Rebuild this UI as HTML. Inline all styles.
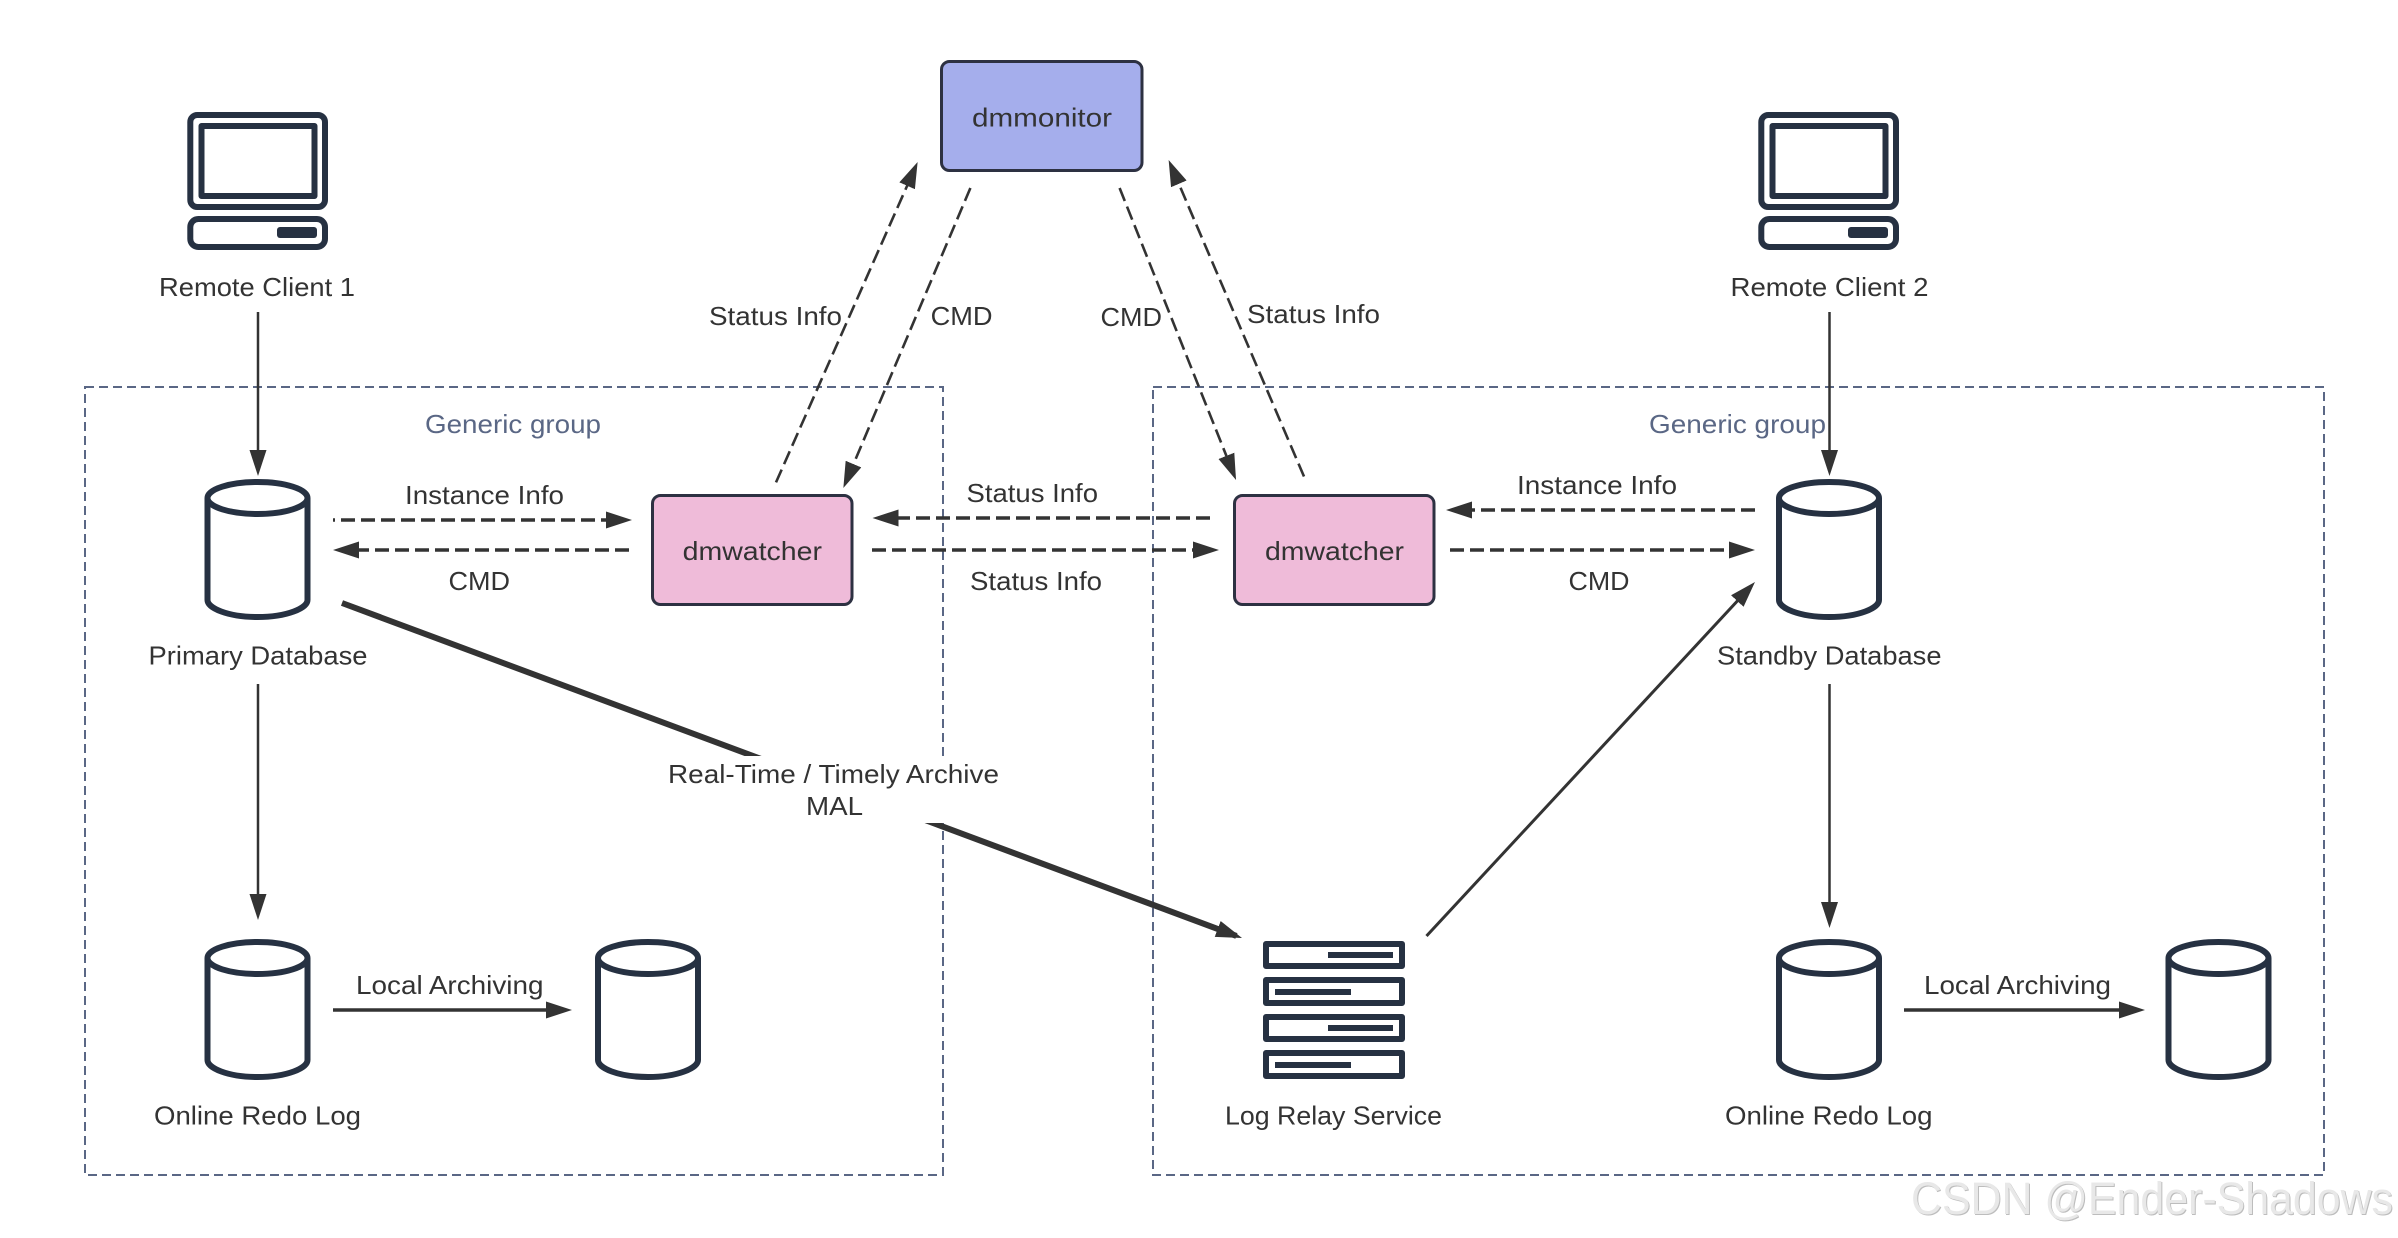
<!DOCTYPE html>
<html lang="en"><head><meta charset="utf-8"><title>DM Watcher Architecture</title>
<style>
html,body{margin:0;padding:0;background:#fff;width:2398px;height:1238px;overflow:hidden}
svg{display:block}
text{font-family:"Liberation Sans","Noto Sans CJK SC",sans-serif;font-size:26px;fill:#333}
.c{fill:none;stroke:#263142;stroke-width:6;stroke-linejoin:round}
.grp{fill:none;stroke:#5a6785;stroke-width:2;stroke-dasharray:9 5}
.l{fill:none;stroke:#333;stroke-width:2.5;marker-end:url(#h)}
.d{fill:none;stroke:#333;stroke-width:2.6;stroke-dasharray:14 6;marker-end:url(#h)}
.dh{fill:none;stroke:#333;stroke-width:3.4;stroke-dasharray:14 6;marker-end:url(#h)}
</style></head><body>
<svg width="2398" height="1238" viewBox="0 0 2398 1238" xmlns="http://www.w3.org/2000/svg">
<defs>
<marker id="h" markerUnits="userSpaceOnUse" markerWidth="28" markerHeight="18" refX="20" refY="9" orient="auto"><path d="M0,0.5 L26,9 L0,17.5 Z" fill="#333"/></marker>
<g id="pc">
<rect x="190.3" y="115" width="134.7" height="92" rx="7" class="c"/>
<rect x="201.5" y="126" width="113" height="70" class="c" stroke-width="5.5"/>
<rect x="190.3" y="219" width="134.7" height="28" rx="8" class="c"/>
<rect x="277" y="227" width="40" height="11" rx="3" fill="#263142"/>
</g>
<g id="cyl">
<ellipse cx="0" cy="19" rx="50" ry="16" class="c"/>
<path d="M-50,19 V121 C-50,129 -30,138 0,138 C30,138 50,129 50,121 V19" class="c"/>
</g>
</defs>

<rect width="2398" height="1238" fill="#fff"/>

<!-- groups -->
<rect x="85" y="387" width="858" height="788" class="grp"/>
<rect x="1153" y="387" width="1171" height="788" class="grp"/>
<text x="425" y="433" textLength="176" lengthAdjust="spacingAndGlyphs" style="fill:#5a6785">Generic group</text>
<text x="1649" y="433" textLength="177" lengthAdjust="spacingAndGlyphs" style="fill:#5a6785">Generic group</text>

<!-- solid vertical connectors -->
<line x1="258" y1="312" x2="258" y2="470" class="l" stroke-width="2"/>
<line x1="1829.500" y1="312" x2="1829.500" y2="470" class="l"/>
<line x1="258" y1="684" x2="258" y2="914" class="l"/>
<line x1="1829.500" y1="684" x2="1829.500" y2="922" class="l"/>

<!-- local archiving -->
<line x1="333" y1="1010" x2="566" y2="1010" class="l" style="stroke-width:3.4"/>
<line x1="1904" y1="1010" x2="2139" y2="1010" class="l" style="stroke-width:3.4"/>

<!-- monitor dashed: line ends 6px short of the arrow tip -->
<line x1="776" y1="482.4" x2="915.2" y2="167.5" class="d"/>
<line x1="970.4" y1="188" x2="845.7" y2="482.5" class="d"/>
<line x1="1119.6" y1="188" x2="1233.8" y2="474.4" class="d"/>
<line x1="1304" y1="476.5" x2="1171" y2="165.5" class="d"/>

<!-- horizontal dashed -->
<line x1="333" y1="520" x2="626" y2="520" class="dh" stroke-dashoffset="12"/>
<line x1="629" y1="550" x2="339" y2="550" class="dh"/>
<line x1="1210" y1="518" x2="878.5" y2="518" class="dh"/>
<line x1="872" y1="550" x2="1213" y2="550" class="dh"/>
<line x1="1755" y1="510" x2="1452" y2="510" class="dh"/>
<line x1="1450" y1="550" x2="1749" y2="550" class="dh"/>

<!-- thick + relay -->
<line x1="342" y1="603" x2="1236.400" y2="935.900" class="l" style="stroke-width:6"/>
<line x1="1426.5" y1="936" x2="1750.900" y2="586.400" class="l" style="stroke-width:3"/>
<rect x="662" y="756" width="343" height="67" fill="#fff"/>
<text x="668" y="783" textLength="331" lengthAdjust="spacingAndGlyphs">Real-Time / Timely Archive</text>
<text x="806" y="815" textLength="57" lengthAdjust="spacingAndGlyphs">MAL</text>

<!-- process boxes -->
<rect x="941.5" y="61.5" width="200.5" height="109" rx="8" fill="#a5aeec" stroke="#2d3142" stroke-width="3"/>
<rect x="652.5" y="495.5" width="199.5" height="109" rx="8" fill="#efbbd9" stroke="#2d3142" stroke-width="3"/>
<rect x="1234.5" y="495.5" width="199.5" height="109" rx="8" fill="#efbbd9" stroke="#2d3142" stroke-width="3"/>
<text x="972" y="126.5" textLength="140" lengthAdjust="spacingAndGlyphs">dmmonitor</text>
<text x="682.6" y="560" textLength="139.4" lengthAdjust="spacingAndGlyphs">dmwatcher</text>
<text x="1265" y="560" textLength="139" lengthAdjust="spacingAndGlyphs">dmwatcher</text>

<!-- icons -->
<use href="#pc"/>
<use href="#pc" x="1571"/>
<use href="#cyl" x="257.500" y="479"/>
<use href="#cyl" x="1829" y="479"/>
<use href="#cyl" x="257.500" y="939"/>
<use href="#cyl" x="648" y="939"/>
<use href="#cyl" x="1829" y="939"/>
<use href="#cyl" x="2218.500" y="939"/>

<!-- server -->
<rect x="1266" y="944" width="136" height="22" class="c"/>
<rect x="1266" y="980" width="136" height="23" class="c"/>
<rect x="1266" y="1017" width="136" height="22" class="c"/>
<rect x="1266" y="1053" width="136" height="23" class="c"/>
<rect x="1328" y="952" width="65" height="6" fill="#263142"/>
<rect x="1275" y="989" width="76" height="6" fill="#263142"/>
<rect x="1328" y="1025" width="65" height="6" fill="#263142"/>
<rect x="1275" y="1062" width="76" height="6" fill="#263142"/>

<!-- labels -->
<text x="159" y="296" textLength="196" lengthAdjust="spacingAndGlyphs">Remote Client 1</text>
<text x="1730.500" y="296" textLength="198" lengthAdjust="spacingAndGlyphs">Remote Client 2</text>
<text x="709" y="325" textLength="133" lengthAdjust="spacingAndGlyphs">Status Info</text>
<text x="930.600" y="325" textLength="62" lengthAdjust="spacingAndGlyphs">CMD</text>
<text x="1100.500" y="326" textLength="61.500" lengthAdjust="spacingAndGlyphs">CMD</text>
<text x="1247" y="323" textLength="133" lengthAdjust="spacingAndGlyphs">Status Info</text>
<text x="405" y="504" textLength="159" lengthAdjust="spacingAndGlyphs">Instance Info</text>
<text x="448.500" y="590" textLength="61.500" lengthAdjust="spacingAndGlyphs">CMD</text>
<text x="966.500" y="502" textLength="131.500" lengthAdjust="spacingAndGlyphs">Status Info</text>
<text x="970" y="590" textLength="132" lengthAdjust="spacingAndGlyphs">Status Info</text>
<text x="1517" y="494" textLength="160" lengthAdjust="spacingAndGlyphs">Instance Info</text>
<text x="1568.500" y="590" textLength="61" lengthAdjust="spacingAndGlyphs">CMD</text>
<text x="148.500" y="664.500" textLength="219" lengthAdjust="spacingAndGlyphs">Primary Database</text>
<text x="1717" y="664.500" textLength="224.500" lengthAdjust="spacingAndGlyphs">Standby Database</text>
<text x="356" y="994" textLength="187.500" lengthAdjust="spacingAndGlyphs">Local Archiving</text>
<text x="1924" y="994" textLength="187" lengthAdjust="spacingAndGlyphs">Local Archiving</text>
<text x="154" y="1124.500" textLength="207" lengthAdjust="spacingAndGlyphs">Online Redo Log</text>
<text x="1725" y="1124.500" textLength="207.500" lengthAdjust="spacingAndGlyphs">Online Redo Log</text>
<text x="1225" y="1124.500" textLength="217" lengthAdjust="spacingAndGlyphs">Log Relay Service</text>

<!-- watermark -->
<text x="1912" y="1215" textLength="482" lengthAdjust="spacingAndGlyphs" style="font-size:45px;fill:#bdbdbd">CSDN @Ender-Shadows</text>
<text x="1911" y="1214" textLength="482" lengthAdjust="spacingAndGlyphs" style="font-size:45px;fill:#e8e8e8">CSDN @Ender-Shadows</text>
</svg>
</body></html>
